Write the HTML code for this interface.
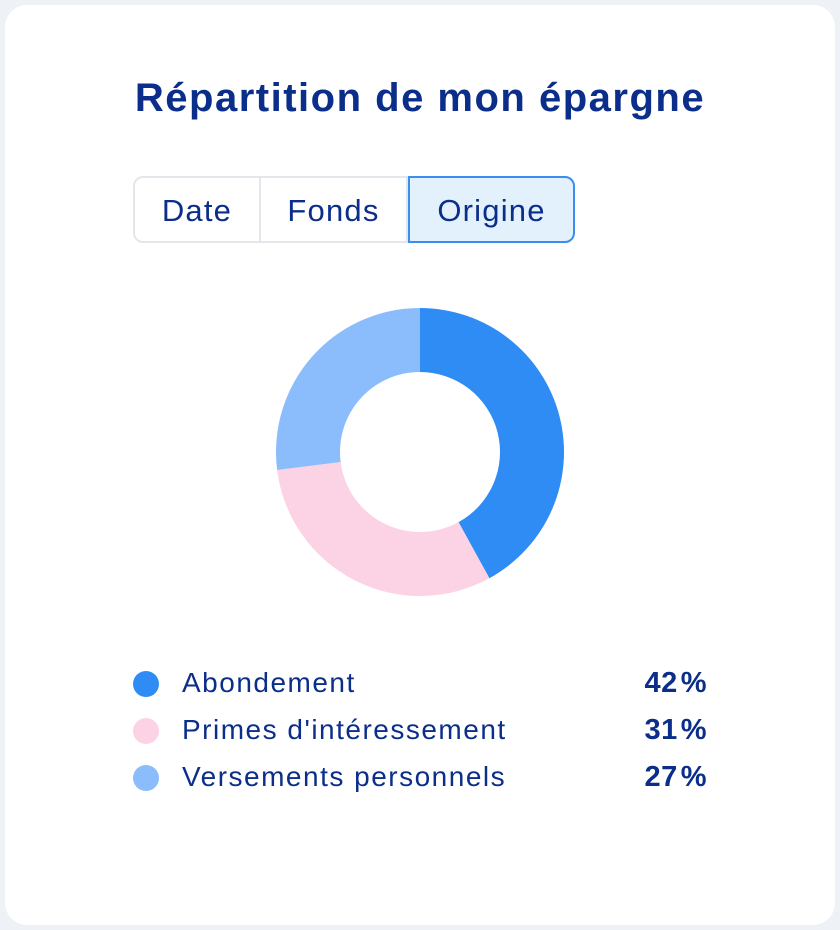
<!DOCTYPE html>
<html><head><meta charset="utf-8">
<style>
body{margin:0;width:840px;height:930px;background:#eef1f5;font-family:"Liberation Sans",sans-serif;}
.card{position:absolute;left:5px;top:5px;width:830px;height:920px;background:#fff;border-radius:22px;}
h1{position:absolute;top:76px;left:0;width:840px;text-align:center;margin:0;font-size:40px;letter-spacing:1.5px;font-weight:bold;color:#0b2e8a;}
.tabs{position:absolute;left:133px;top:176px;height:67px;display:flex;}
.tab{box-sizing:border-box;height:67px;border:2px solid #e3e6ea;display:flex;align-items:center;justify-content:center;font-size:31px;letter-spacing:1.2px;color:#0b2e8a;padding-top:2px;}
.leg{position:absolute;left:133px;width:574px;height:40px;font-size:28px;letter-spacing:1.5px;color:#0b2e8a;}
.leg .dot{position:absolute;left:0;top:7px;width:26px;height:26px;border-radius:50%;}
.leg .lbl{position:absolute;left:49px;top:3px;}
.leg .val{position:absolute;right:0;top:3px;font-weight:bold;font-size:29px;letter-spacing:0.5px;}
</style></head><body>
<div class="card"></div>
<h1>Répartition de mon épargne</h1>
<div class="tabs">
<div class="tab" style="width:128px;border-radius:10px 0 0 10px">Date</div>
<div class="tab" style="width:147px;border-left:none">Fonds</div>
<div class="tab" style="width:167px;background:#e2f1fb;border-color:#3a8ef0;border-radius:0 10px 10px 0">Origine</div>
</div>
<svg id="donut" width="840" height="930" style="position:absolute;left:0;top:0"></svg>
<div id="legend"></div>
<script>
const labels=["Abondement","Primes d'intéressement","Versements personnels"];
const values=[42,31,27];
const colors=["#2f8cf5","#fcd3e4","#8bbcfb"];
const cx=420,cy=452,R=144,r=80;
const svg=document.getElementById('donut');
const total=values.reduce((a,b)=>a+b,0);
let a0=0;
function pt(rad,a){return [cx+rad*Math.sin(a),cy-rad*Math.cos(a)];}
values.forEach((v,i)=>{
  const a1=a0+v/total*2*Math.PI;
  const large=(a1-a0)>Math.PI?1:0;
  const [x0,y0]=pt(R,a0),[x1,y1]=pt(R,a1),[x2,y2]=pt(r,a1),[x3,y3]=pt(r,a0);
  const p=document.createElementNS('http://www.w3.org/2000/svg','path');
  p.setAttribute('d',`M${x0},${y0}A${R},${R} 0 ${large} 1 ${x1},${y1}L${x2},${y2}A${r},${r} 0 ${large} 0 ${x3},${y3}Z`);
  p.setAttribute('fill',colors[i]);
  
  
  svg.appendChild(p);
  a0=a1;
});
const lg=document.getElementById('legend');
values.forEach((v,i)=>{
  const d=document.createElement('div');
  d.className='leg';
  d.style.top=(664+i*47)+'px';
  
  
  d.innerHTML=`<span class="dot" style="background:${colors[i]}"></span><span class="lbl">${labels[i]}</span><span class="val">${v}\u200a%</span>`;
  lg.appendChild(d);
});
</script>
</body></html>
